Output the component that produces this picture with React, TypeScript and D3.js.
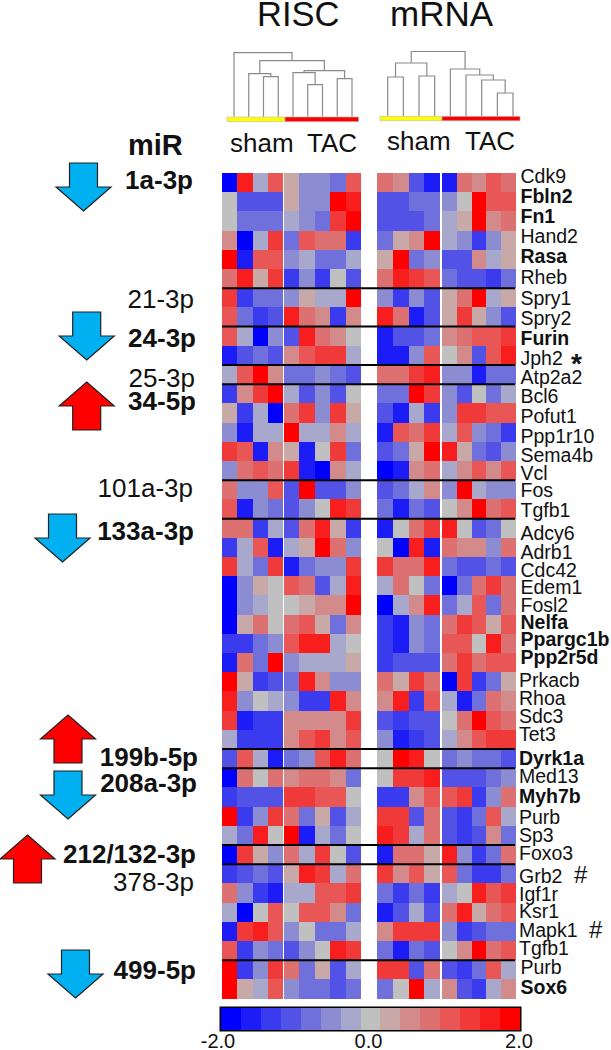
import React from "react";
import * as d3 from "d3";

const genes = ["Cdk9","Fbln2","Fn1","Hand2","Rasa","Rheb","Spry1","Spry2","Furin","Jph2","Atp2a2","Bcl6","Pofut1","Ppp1r10","Sema4b","Vcl","Fos","Tgfb1","Adcy6","Adrb1","Cdc42","Edem1","Fosl2","Nelfa","Ppargc1b","Ppp2r5d","Prkacb","Rhoa","Sdc3","Tet3","Dyrk1a","Med13","Myh7b","Purb","Sp3","Foxo3","Grb2","Igf1r","Ksr1","Mapk1","Tgfb1","Purb","Sox6"];
const boldGenes = [1,2,4,8,23,24,25,30,32,42];
const geneBaselines = [183,203,223,243,263,284,305,325,345,365,384,403,423,443,462,480,497,517,540,559,577,594,612,629,646,664,687,705,723,741,765,783,803,824,842,860,883,901,918,937,955,974,994];
const geneMarks = [
  { t: "*", x: 571, y: 373, size: 28, bold: true },
  { t: "#", x: 574, y: 883, size: 24, bold: false },
  { t: "#", x: 589, y: 938, size: 24, bold: false },
];
// group separators: row index below which a black line is drawn
const separators = [6,8,10,11,16,18,30,31,35,36,41];

// Values in colour-bar steps (-7 = -2.0 ... 0 = 0.0 ... 7 = +2.0)
const risc = [
[-7,6,-1,4,1,-2,-2,-3,4],
[0,-4,-4,-4,1,-2,-2,7,6],
[0,-3,-3,-3,-1,-2,-3,5,7],
[2,-7,-1,5,-3,4,3,3,-5],
[7,-6,4,4,-2,-1,-3,-3,-1],
[3,6,1,5,-5,-2,-5,0,-4],
[5,-5,-3,-3,-2,1,-1,-1,7],
[4,-3,-5,-4,6,3,2,-5,2],
[4,-1,-7,-2,-4,6,3,2,0],
[-6,-4,-3,-4,2,4,5,5,-1],
[-1,4,7,2,-3,-3,-2,-3,-4],
[-5,2,5,7,-1,-4,-2,-4,0],
[1,-5,-1,-7,3,5,-2,5,1],
[-2,-6,-1,-1,7,-1,-1,2,-1],
[5,4,-6,2,1,-6,0,5,-3],
[-2,3,4,3,5,-6,-7,2,-1],
[3,-2,-2,4,-4,7,-4,-4,-2],
[4,-6,-2,-3,-4,-2,0,6,5],
[3,3,-5,-1,-4,3,6,1,-5],
[-5,-1,4,-6,-1,1,7,3,-2],
[5,-1,-3,5,-6,-3,-2,-2,5],
[-7,-2,1,0,4,3,-4,-1,6],
[-7,-2,-1,0,0,1,2,2,7],
[-7,1,3,0,3,4,1,-3,2],
[-5,-5,-3,-2,4,6,6,-1,0],
[-6,3,-3,7,-2,-1,-1,-1,1],
[7,1,-5,-4,-3,6,2,-2,-2],
[6,-2,0,-1,-2,-5,-5,6,2],
[5,-6,-5,-5,2,2,2,2,5],
[-1,-5,-5,-5,2,4,5,2,4],
[-4,4,-1,-6,-3,-2,4,6,3],
[-7,3,0,3,2,3,3,2,-3],
[-5,-4,-4,-4,5,5,4,4,0],
[7,-5,-2,5,3,-3,1,-4,-1],
[-1,-3,6,0,7,-6,-1,-3,0],
[-7,5,1,-2,3,-1,5,0,-4],
[-5,-4,-3,-4,1,6,5,-1,3],
[3,-2,-5,-6,-1,-1,4,4,5],
[-1,-7,0,4,0,4,4,2,-3],
[-6,5,6,4,-2,0,-3,-3,-1],
[4,-5,-2,-3,-4,-2,0,6,5],
[7,-5,-2,5,3,-3,1,-4,-1],
[7,1,-1,4,-2,-3,-3,-4,-3],
];
const mrna = [
[3,2,-4,-6,-6,3,2,4,3],
[-4,-4,-3,-3,-2,0,7,4,4],
[-4,-4,-4,-3,-1,1,7,2,3],
[-3,1,2,7,-1,-2,-5,-2,1],
[1,7,-3,-2,-4,-4,2,-1,1],
[3,6,5,4,-3,-4,-4,-5,-3],
[-2,-5,-2,-4,1,3,7,-1,1],
[6,3,-6,-4,1,5,1,-2,-4],
[-6,-4,-4,-3,2,3,4,4,5],
[-6,-6,-2,4,0,2,-4,4,6],
[3,3,5,6,-2,-2,-6,-3,-3],
[-3,-3,7,5,-2,-4,0,-3,-1],
[-4,-6,-1,-5,-2,5,5,4,4],
[-6,4,3,5,-1,4,-2,-3,-5],
[-4,-3,1,7,6,1,-3,-4,-2],
[-7,-6,2,3,-1,2,4,2,4],
[-4,-3,-1,2,-2,7,-1,-2,-2],
[-3,-6,-3,-4,0,2,7,3,4],
[-6,0,3,5,6,0,-4,-3,0],
[0,-7,6,-6,3,2,2,-2,3],
[5,3,3,6,-3,-4,-4,-3,-4],
[-1,3,0,-3,-7,-3,3,5,3],
[-7,-1,2,6,-3,-1,4,-3,3],
[-5,-6,-2,-3,3,5,4,1,4],
[-5,-6,-2,-3,4,4,0,6,3],
[-5,-4,-4,-4,3,5,3,4,4],
[3,1,5,3,-7,5,-5,-3,1],
[2,6,-5,4,-1,-6,-3,3,2],
[-4,-5,-4,-4,0,3,7,4,3],
[-2,-6,-5,-4,-1,2,4,5,5],
[0,7,6,0,-3,-2,-3,-3,-4],
[0,5,5,6,-4,-4,-4,-3,-2],
[-5,-5,2,4,4,5,-5,-2,3],
[5,5,-4,3,-4,-5,-3,4,-1],
[6,5,-1,3,-4,-5,-4,2,-3],
[-6,3,3,1,6,-2,-5,-3,3],
[5,2,4,1,4,-3,-5,-5,-3],
[-3,-5,-3,-5,-1,0,6,4,5],
[-6,-4,-1,-4,3,6,1,3,4],
[2,5,5,5,-2,-5,-4,-3,-3],
[-3,-6,-3,-4,0,2,7,3,4],
[5,5,-4,3,-4,-5,-3,4,-1],
[-3,0,7,-1,2,-4,-5,-1,2],
];
const palette = ["#0000ff","#1c1cf6","#3a3aee","#5252e6","#7070dc","#8c8cd2","#a8a8cc","#c0c0c0","#c9a8a8","#d28a8a","#dd7070","#e85656","#f03a3a","#f81e1e","#ff0000"];
const colourSteps = d3.range(-7, 8);
const colourTicks = [-2, 0, 2];

type Node = { h: number; kids: (Node | number)[] };
// dendrograms: leaves are column numbers, h is merge height
const riscTree: Node = { h: 64, kids: [0, { h: 56, kids: [
  { h: 43, kids: [1, { h: 40, kids: [2, 3] }] },
  { h: 46, kids: [{ h: 44, kids: [4, { h: 32, kids: [5, 6] }] }, { h: 38, kids: [7, 8] }] },
] }] };
const mrnaTree: Node = { h: 64.5, kids: [
  { h: 53, kids: [{ h: 39, kids: [0, 1] }, { h: 40, kids: [2, 3] }] },
  { h: 47, kids: [4, { h: 41, kids: [5, { h: 36, kids: [6, { h: 23, kids: [7, 8] }] }] }] },
] };

const mirLabels = [
  { t: "1a-3p", b: true, y: 189, x: 193 },
  { t: "21-3p", b: false, y: 308, x: 194 },
  { t: "24-3p", b: true, y: 347, x: 196 },
  { t: "25-3p", b: false, y: 387, x: 195 },
  { t: "34-5p", b: true, y: 410, x: 196 },
  { t: "101a-3p", b: false, y: 497, x: 193 },
  { t: "133a-3p", b: true, y: 540, x: 194 },
  { t: "199b-5p", b: true, y: 766, x: 198 },
  { t: "208a-3p", b: true, y: 792, x: 197 },
  { t: "212/132-3p", b: true, y: 863, x: 196 },
  { t: "378-3p", b: false, y: 891, x: 194 },
  { t: "499-5p", b: true, y: 979, x: 196 },
];
const arrows = [
  { cx: 83.5, top: 163, up: false },
  { cx: 86.7, top: 312, up: false },
  { cx: 86.7, top: 382, up: true },
  { cx: 62.5, top: 514, up: false },
  { cx: 68, top: 715, up: true },
  { cx: 68, top: 771, up: false },
  { cx: 27.5, top: 835, up: true },
  { cx: 75.5, top: 950, up: false },
];

const FONT = "'Liberation Sans', Arial, sans-serif";
const colour = d3.scaleQuantize<string>().domain([-7.5, 7.5]).range(palette);
const rowY = d3.scaleLinear().domain([0, genes.length]).range([173, 998.7]);

function colScale(x0: number, x1: number, x2: number, x3: number) {
  const a = d3.scaleLinear().domain([0, 4]).range([x0, x1]);
  const b = d3.scaleLinear().domain([4, 9]).range([x2, x3]);
  return (i: number, end = false) => (i < 4 || (i === 4 && end) ? a(i) : b(i));
}

function Heat({ data, cx }: { data: number[][]; cx: (i: number, end?: boolean) => number }) {
  return (
    <g shapeRendering="crispEdges">
      {data.map((row, r) => row.map((v, c) => (
        <rect key={`${r}-${c}`} x={cx(c)} y={rowY(r)} width={cx(c + 1, true) - cx(c)} height={rowY(r + 1) - rowY(r)} fill={colour(v)} />
      )))}
    </g>
  );
}

function Dendro({ tree, x0, x1, base }: { tree: Node; x0: number; x1: number; base: number }) {
  const lx = d3.scaleLinear().domain([0, 8]).range([x0, x1]);
  const y = d3.scaleLinear().domain([0, 64]).range([base, base - 64]);
  const segs: string[] = [];
  const walk = (n: Node | number): [number, number] => {
    if (typeof n === "number") return [lx(n), 0];
    const [a, b] = n.kids.map(walk);
    const p = d3.path();
    p.moveTo(a[0], y(a[1]));
    p.lineTo(a[0], y(n.h));
    p.lineTo(b[0], y(n.h));
    p.lineTo(b[0], y(b[1]));
    segs.push(p.toString());
    return [(a[0] + b[0]) / 2, n.h];
  };
  walk(tree);
  return <g fill="none" stroke="#8a8a8a" strokeWidth={1.2}>{segs.map((d, i) => <path key={i} d={d} />)}</g>;
}

function Arrow({ cx, top, up }: { cx: number; top: number; up: boolean }) {
  const h = 48, head = 24, hw = 27.5, sw = 14;
  const s = up ? 1 : -1;
  const tip = up ? top : top + h;
  const pts: [number, number][] = [
    [cx, tip], [cx + hw, tip + s * head], [cx + sw, tip + s * head], [cx + sw, tip + s * h],
    [cx - sw, tip + s * h], [cx - sw, tip + s * head], [cx - hw, tip + s * head],
  ];
  const line = d3.line();
  return <path d={line(pts) + "Z"} fill={up ? "#ff0000" : "#00b0f0"} stroke="#222" strokeWidth={1.2} strokeLinejoin="miter" />;
}

export default function App() {
  const riscX = colScale(222, 283, 284, 361);
  const mrnaX = colScale(377, 440, 442, 516);
  const barX = d3.scaleLinear().domain([-7.5, 7.5]).range([221, 520]);
  const tickX = d3.scaleLinear().domain([-2, 2]).range([218, 519]);
  return (
    <svg width={611} height={1050} style={{ position: "absolute", left: 0, top: 0, display: "block" }} fontFamily={FONT}>
      <rect width={611} height={1050} fill="#fff" />
      <text x={257} y={26} fontSize={34.5} fill="#111">RISC</text>
      <text x={390} y={26} fontSize={35} fill="#111">mRNA</text>

      <Dendro tree={riscTree} x0={234} x1={352} base={116.7} />
      <Dendro tree={mrnaTree} x0={387.7} x1={513} base={116} />
      <g stroke="#bbb" strokeWidth={0.6}>
        <rect x={227} y={117} width={58} height={4.7} fill="#ffff00" />
        <rect x={285} y={117} width={73.7} height={4.7} fill="#ff0000" />
        <rect x={380} y={116.3} width={62} height={4.5} fill="#ffff00" />
        <rect x={442} y={116.3} width={78} height={4.5} fill="#ff0000" />
      </g>
      <g fontSize={26} fill="#111">
        <text x={230} y={152}>sham</text>
        <text x={307} y={152}>TAC</text>
        <text x={387} y={150}>sham</text>
        <text x={465} y={150}>TAC</text>
      </g>
      <text x={128} y={155} fontSize={29} fontWeight="bold" fill="#111">miR</text>

      {arrows.map((a, i) => <Arrow key={i} {...a} />)}
      {mirLabels.map(m => (
        <text key={m.t} x={m.x} y={m.y} textAnchor="end" fontSize={26} fontWeight={m.b ? "bold" : "normal"} fill="#111">{m.t}</text>
      ))}

      <Heat data={risc} cx={riscX} />
      <Heat data={mrna} cx={mrnaX} />

      <g stroke="#000" strokeWidth={2}>
        {separators.map(s => <line key={s} x1={222} x2={515} y1={rowY(s)} y2={rowY(s)} />)}
      </g>

      {genes.map((g, i) => (
        <text key={i} x={i >= 26 && i <= 40 ? 519 : 520.5} y={geneBaselines[i]} fontSize={19.5}
          fontWeight={boldGenes.includes(i) ? "bold" : "normal"} fill="#111"
          {...(g === "Ppargc1b" ? { textLength: 89, lengthAdjust: "spacingAndGlyphs" } : {})}>
          {g}
        </text>
      ))}
      {geneMarks.map(m => (
        <text key={m.x} x={m.x} y={m.y} fontSize={m.size} fontWeight={m.bold ? "bold" : "normal"} fill="#111">{m.t}</text>
      ))}

      <rect x={219.5} y={1006.5} width={302} height={25} fill="#000" />
      <g shapeRendering="crispEdges">
        {colourSteps.map(s => (
          <rect key={s} x={barX(s - 0.5)} y={1008} width={barX(s + 0.5) - barX(s - 0.5)} height={22} fill={colour(s)} />
        ))}
      </g>
      {colourTicks.map(t => (
        <text key={t} x={tickX(t)} y={1048} fontSize={20} textAnchor="middle" fill="#111">{t.toFixed(1)}</text>
      ))}
    </svg>
  );
}
